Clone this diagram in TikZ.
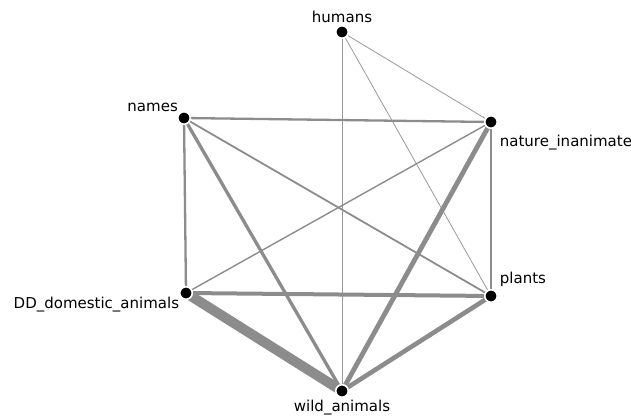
\documentclass[tikz,border=0pt]{standalone}
\usepackage{fontspec}
\setmainfont{DejaVu Sans}
\usetikzlibrary{backgrounds}

\begin{document}
\begin{tikzpicture}[x=1pt, y=-1pt,
	every node/.style={font=\fontsize{15}{18}\selectfont},
	vert/.style={circle, fill=black, draw=white, line width=1.6pt, minimum size=12.5pt, inner sep=0pt},
	edge/.style={draw=gray!90, line cap=butt},
	every label/.style={font=\fontsize{15}{18}\selectfont, inner sep=1pt, label distance=1pt}]
	\useasboundingbox (0,0) rectangle (631,419);
	% vertices
	\node[vert, label={[name=humL]above:humans}] (hum) at (342,32) {};
	\node[vert, label={[name=namL, label distance=0pt]above left:names}] (nam) at (184,118) {};
	\node[vert, label={[name=natL, xshift=2pt, yshift=-6pt]below right:nature\_inanimate}] (nat) at (491,122) {};
	\node[vert, label={[name=plaL, xshift=2pt, yshift=2pt]above right:plants}] (pla) at (491,296) {};
	\node[vert, label={[name=domL, yshift=3pt]below left:DD\_domestic\_animals}] (dom) at (186,293) {};
	\node[vert, label={[name=wilL]below:wild\_animals}] (wil) at (342,391) {};
	% weighted edges
	\begin{pgfonlayer}{background}
		\draw[edge, line width=0.8pt, gray!80] (hum.center) -- (nat.center);
		\draw[edge, line width=0.8pt, gray!80] (hum.center) -- (pla.center);
		\draw[edge, line width=0.8pt, gray!80] (hum.center) -- (wil.center);
		\draw[edge, line width=2.3pt] (nam.center) -- (nat.center);
		\draw[edge, line width=1.8pt] (nam.center) -- (pla.center);
		\draw[edge, line width=2.3pt] (nam.center) -- (dom.center);
		\draw[edge, line width=3.3pt] (nam.center) -- (wil.center);
		\draw[edge, line width=1.4pt] (nat.center) -- (dom.center);
		\draw[edge, line width=2.5pt] (nat.center) -- (pla.center);
		\draw[edge, line width=4.8pt] (nat.center) -- (wil.center);
		\draw[edge, line width=4pt] (dom.center) -- (pla.center);
		\draw[edge, line width=10pt] (dom.center) -- (wil.center);
		\draw[edge, line width=4.6pt] (pla.center) -- (wil.center);
	\end{pgfonlayer}
\end{tikzpicture}
\end{document}
